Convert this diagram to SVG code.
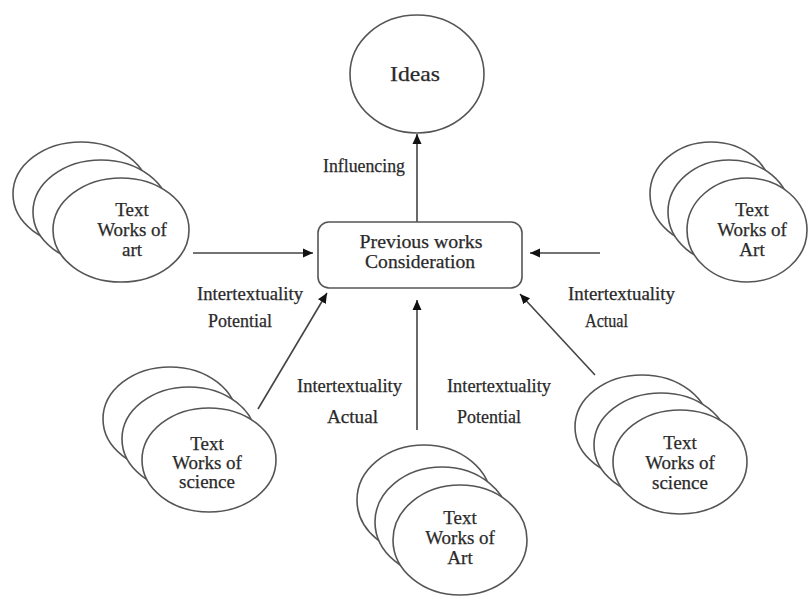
<svg xmlns="http://www.w3.org/2000/svg" width="809" height="601" viewBox="0 0 809 601">
<defs>
<marker id="ah" viewBox="0 0 10 10" refX="10" refY="5" markerWidth="10" markerHeight="10" markerUnits="userSpaceOnUse" orient="auto">
<path d="M0,0.5 L10,5 L0,9.5 Z" fill="#111"/>
</marker>
<style>
.c{fill:#fff;stroke:#555;stroke-width:1.6}
.t{font-family:"Liberation Serif","Times New Roman",serif;font-size:19px;fill:#2a2a2a;stroke:#2a2a2a;stroke-width:0.25;text-anchor:middle}
.l{font-family:"Liberation Serif","Times New Roman",serif;font-size:18px;fill:#2a2a2a;stroke:#2a2a2a;stroke-width:0.25}
.e{stroke:#444;stroke-width:1.6;fill:none;marker-end:url(#ah)}
</style>
</defs>
<rect width="809" height="601" fill="#fff"/>
<g id="connectors">
<line class="e" x1="417" y1="222" x2="417" y2="134"/>
<line class="e" x1="193" y1="253" x2="313" y2="253"/>
<line class="e" x1="600" y1="253" x2="530" y2="253"/>
<line class="e" x1="258" y1="409" x2="327" y2="293"/>
<line class="e" x1="417" y1="430" x2="417" y2="300"/>
<line class="e" x1="595" y1="375" x2="520" y2="294"/>
</g>
<g id="labels">
<text class="l" x="323" y="172" textLength="82" lengthAdjust="spacingAndGlyphs">Influencing</text>
<text class="l" x="197" y="300" textLength="106" lengthAdjust="spacingAndGlyphs">Intertextuality</text>
<text class="l" x="208" y="327" textLength="64" lengthAdjust="spacingAndGlyphs">Potential</text>
<text class="l" x="568" y="300" textLength="107" lengthAdjust="spacingAndGlyphs">Intertextuality</text>
<text class="l" x="585" y="327" textLength="43" lengthAdjust="spacingAndGlyphs">Actual</text>
<text class="l" x="297" y="392" textLength="105" lengthAdjust="spacingAndGlyphs">Intertextuality</text>
<text class="l" x="327" y="423" textLength="51" lengthAdjust="spacingAndGlyphs">Actual</text>
<text class="l" x="447" y="392" textLength="104" lengthAdjust="spacingAndGlyphs">Intertextuality</text>
<text class="l" x="457" y="423" textLength="64" lengthAdjust="spacingAndGlyphs">Potential</text>
</g>
<g id="ideas">
<ellipse class="c" cx="417" cy="74" rx="67" ry="59"/>
<text class="t" x="415" y="81" style="font-size:22px" textLength="50" lengthAdjust="spacingAndGlyphs">Ideas</text>
</g>
<g id="previous-works">
<rect x="318" y="222" width="204" height="66" rx="11" fill="#fff" stroke="#555" stroke-width="1.6"/>
<text class="t" x="421" y="248" textLength="123" lengthAdjust="spacingAndGlyphs">Previous works</text>
<text class="t" x="420" y="268" textLength="110" lengthAdjust="spacingAndGlyphs">Consideration</text>
</g>
<g id="art-left">
<ellipse class="c" cx="81" cy="194" rx="68" ry="52"/>
<ellipse class="c" cx="101" cy="212" rx="68" ry="52"/>
<ellipse class="c" cx="121" cy="230" rx="68" ry="52"/>
<text class="t" x="132" y="216">Text</text>
<text class="t" x="132" y="236">Works of</text>
<text class="t" x="132" y="256">art</text>
</g>
<g id="art-right">
<ellipse class="c" cx="711" cy="194" rx="61" ry="52"/>
<ellipse class="c" cx="729" cy="212" rx="61" ry="52"/>
<ellipse class="c" cx="747" cy="230" rx="60" ry="52"/>
<text class="t" x="752" y="216">Text</text>
<text class="t" x="752" y="236">Works of</text>
<text class="t" x="752" y="256">Art</text>
</g>
<g id="science-left">
<ellipse class="c" cx="170" cy="419" rx="67" ry="52"/>
<ellipse class="c" cx="189" cy="439" rx="67" ry="52"/>
<ellipse class="c" cx="209" cy="460" rx="67" ry="52"/>
<text class="t" x="207" y="450">Text</text>
<text class="t" x="207" y="469">Works of</text>
<text class="t" x="207" y="488">science</text>
</g>
<g id="science-right">
<ellipse class="c" cx="642" cy="427" rx="67" ry="52"/>
<ellipse class="c" cx="661" cy="445" rx="67" ry="52"/>
<ellipse class="c" cx="680" cy="462" rx="67" ry="52"/>
<text class="t" x="680" y="449">Text</text>
<text class="t" x="680" y="469">Works of</text>
<text class="t" x="680" y="489">science</text>
</g>
<g id="art-bottom">
<ellipse class="c" cx="424" cy="500" rx="67" ry="55"/>
<ellipse class="c" cx="442" cy="522" rx="67" ry="55"/>
<ellipse class="c" cx="460" cy="540" rx="67" ry="55"/>
<text class="t" x="460" y="524">Text</text>
<text class="t" x="460" y="544">Works of</text>
<text class="t" x="460" y="564">Art</text>
</g>
</svg>
